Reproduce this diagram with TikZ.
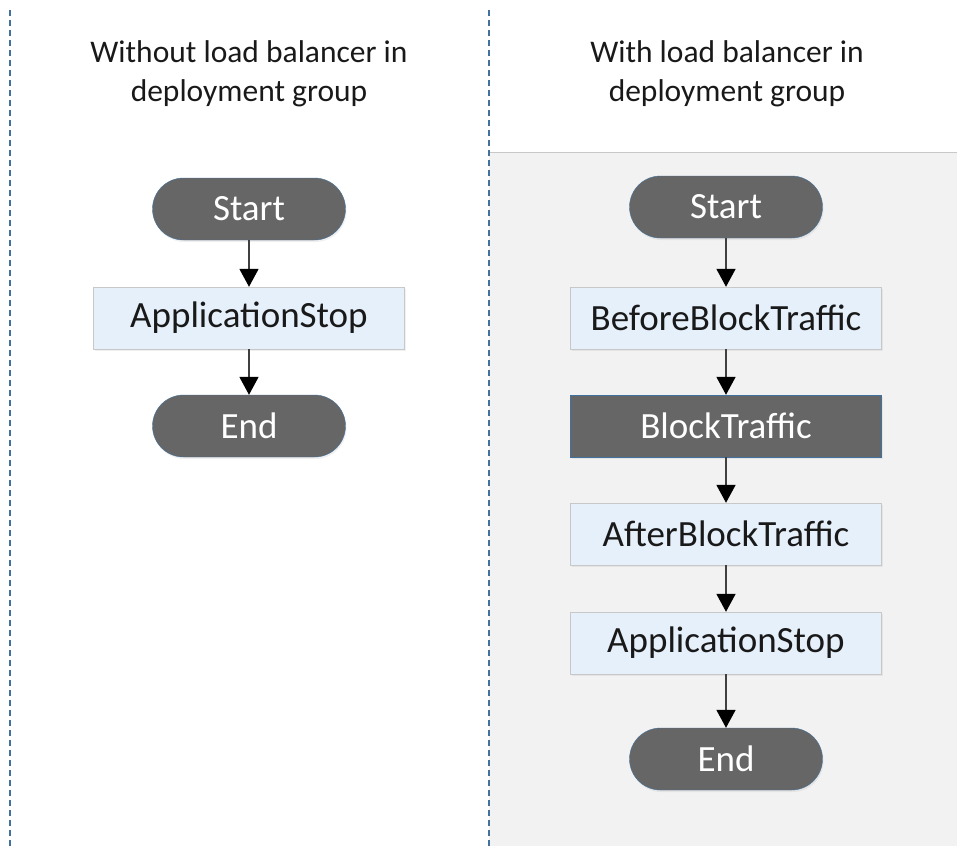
\documentclass[tikz,border=0pt]{standalone}
\usepackage{fontspec}
\setmainfont{Carlito}
\usepackage{xcolor}
\usetikzlibrary{arrows.meta,shadows}
\definecolor{pillgray}{RGB}{102,102,102}
\definecolor{edgeblue}{RGB}{65,113,156}
\definecolor{hookblue}{RGB}{229,240,251}
\definecolor{hookedge}{RGB}{200,200,200}
\definecolor{panelgray}{RGB}{242,242,242}
\definecolor{linegray}{RGB}{64,64,64}

\begin{document}
\begin{tikzpicture}[
    x=1pt, y=-1pt,
    title/.style={align=center, font=\fontsize{31.5}{39}\selectfont, text=black!90},
    hook/.style={draw=hookedge, fill=hookblue, minimum width=311pt, minimum height=62pt,
                 font=\fontsize{37}{42}\selectfont, text=black!90,
                 drop shadow={opacity=0.12, shadow xshift=1pt, shadow yshift=-2pt}},
    dark/.style={hook, draw=edgeblue, fill=pillgray, text=white},
    pill/.style={dark, minimum width=193pt, rounded corners=31pt},
    arr/.style={-{Triangle[width=19pt,length=18pt,color=black]}, line width=1.8pt, draw=linegray},
    sep/.style={draw=edgeblue, line width=1.8pt, dash pattern=on 6pt off 4pt}
  ]
    \useasboundingbox (0,0) rectangle (957,846);
    \fill[panelgray] (489,152) rectangle (957,846);
    \draw[hookedge, line width=1pt] (489,152) -- (957,152);
    \draw[sep] (10,10) -- (10,846);
    \draw[sep] (489,10) -- (489,846);

    \node[title] (tl) at (249,74) {Without load balancer in\\deployment group};
    \node[title] (tr) at (727,74) {With load balancer in\\deployment group};

    % without load balancer
    \node[pill] (ls) at (249,209) {Start};
    \node[hook] (la) at (249,318) {ApplicationStop};
    \node[pill] (le) at (249,426) {End};

    % with load balancer
    \node[pill] (rs) at (726,207) {Start};
    \node[hook] (rb) at (726,318) {BeforeBlockTraffic};
    \node[dark] (rk) at (726,426) {BlockTraffic};
    \node[hook] (ra) at (726,534) {AfterBlockTraffic};
    \node[hook] (rp) at (726,643) {ApplicationStop};
    \node[pill] (re) at (726,759) {End};

    \draw[arr] (ls) -- (la);
    \draw[arr] (la) -- (le);
    \draw[arr] (rs) -- (rb);
    \draw[arr] (rb) -- (rk);
    \draw[arr] (rk) -- (ra);
    \draw[arr] (ra) -- (rp);
    \draw[arr] (rp) -- (re);
  \end{tikzpicture}
\end{document}
